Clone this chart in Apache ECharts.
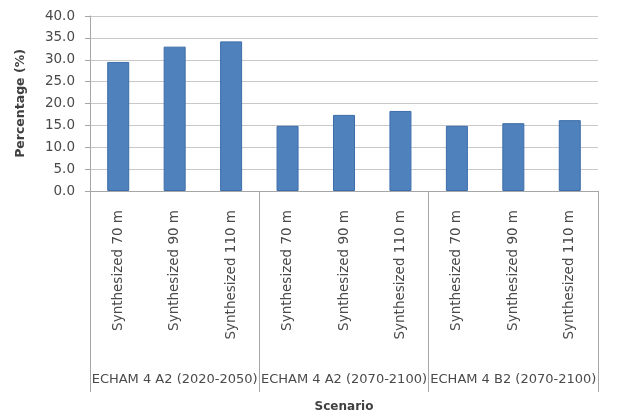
<!DOCTYPE html>
<html><head><meta charset="utf-8">
<script src="https://cdn.jsdelivr.net/npm/echarts@6/dist/echarts.min.js"></script>
<style>html,body{margin:0;padding:0;background:#fff}#c{width:642px;height:416px}</style>
</head><body><div id="c"></div>
<script>
const categories = ["Synthesized 70 m","Synthesized 90 m","Synthesized 110 m","Synthesized 70 m","Synthesized 90 m","Synthesized 110 m","Synthesized 70 m","Synthesized 90 m","Synthesized 110 m"];
const groups = ["ECHAM 4 A2 (2020-2050)","ECHAM 4 A2 (2070-2100)","ECHAM 4 B2 (2070-2100)"];
const values = [29.5, 33.0, 34.2, 14.9, 17.4, 18.3, 14.9, 15.5, 16.2];
const font = "'DejaVu Sans', sans-serif";
const chart = echarts.init(document.getElementById('c'), null, {renderer:'canvas'});
chart.setOption({
  animation:false,
  grid:{left:90,right:44,top:16,bottom:225,containLabel:false},
  xAxis:[{
    type:'category', data:categories, position:'bottom',
    axisLine:{lineStyle:{color:'#a6a6a6'}},
    axisTick:{show:false},
    axisLabel:{rotate:90, interval:0, color:'#4a4a4a', fontFamily:font, fontSize:13.5, margin:19, align:'right', verticalAlign:'middle'}
  },{
    type:'category', data:groups, position:'bottom',
    axisLine:{show:false},
    axisTick:{show:true, length:201, lineStyle:{color:'#a6a6a6'}},
    axisLabel:{interval:0, color:'#4a4a4a', fontFamily:font, fontSize:13, margin:182},
    name:'Scenario', nameLocation:'middle', nameGap:210,
    nameTextStyle:{fontWeight:'bold', color:'#404040', fontFamily:font, fontSize:12}
  }],
  yAxis:{
    type:'value', min:0, max:40, interval:5,
    name:'Percentage (%)', nameLocation:'middle', nameGap:63, nameRotate:90,
    nameTextStyle:{fontWeight:'bold', color:'#404040', fontFamily:font, fontSize:12.5},
    axisLine:{show:true, lineStyle:{color:'#a6a6a6'}},
    axisTick:{show:true, length:5, lineStyle:{color:'#a6a6a6'}},
    axisLabel:{formatter:v=>v.toFixed(1), color:'#4a4a4a', fontFamily:font, fontSize:13.5, margin:15},
    splitLine:{lineStyle:{color:'#c8c8c8'}}
  },
  series:[{
    type:'bar', data:values, xAxisIndex:0, barWidth:22,
    itemStyle:{color:'#4F81BD', borderColor:'#3C6DAA', borderWidth:1}
  }]
});
</script></body></html>
